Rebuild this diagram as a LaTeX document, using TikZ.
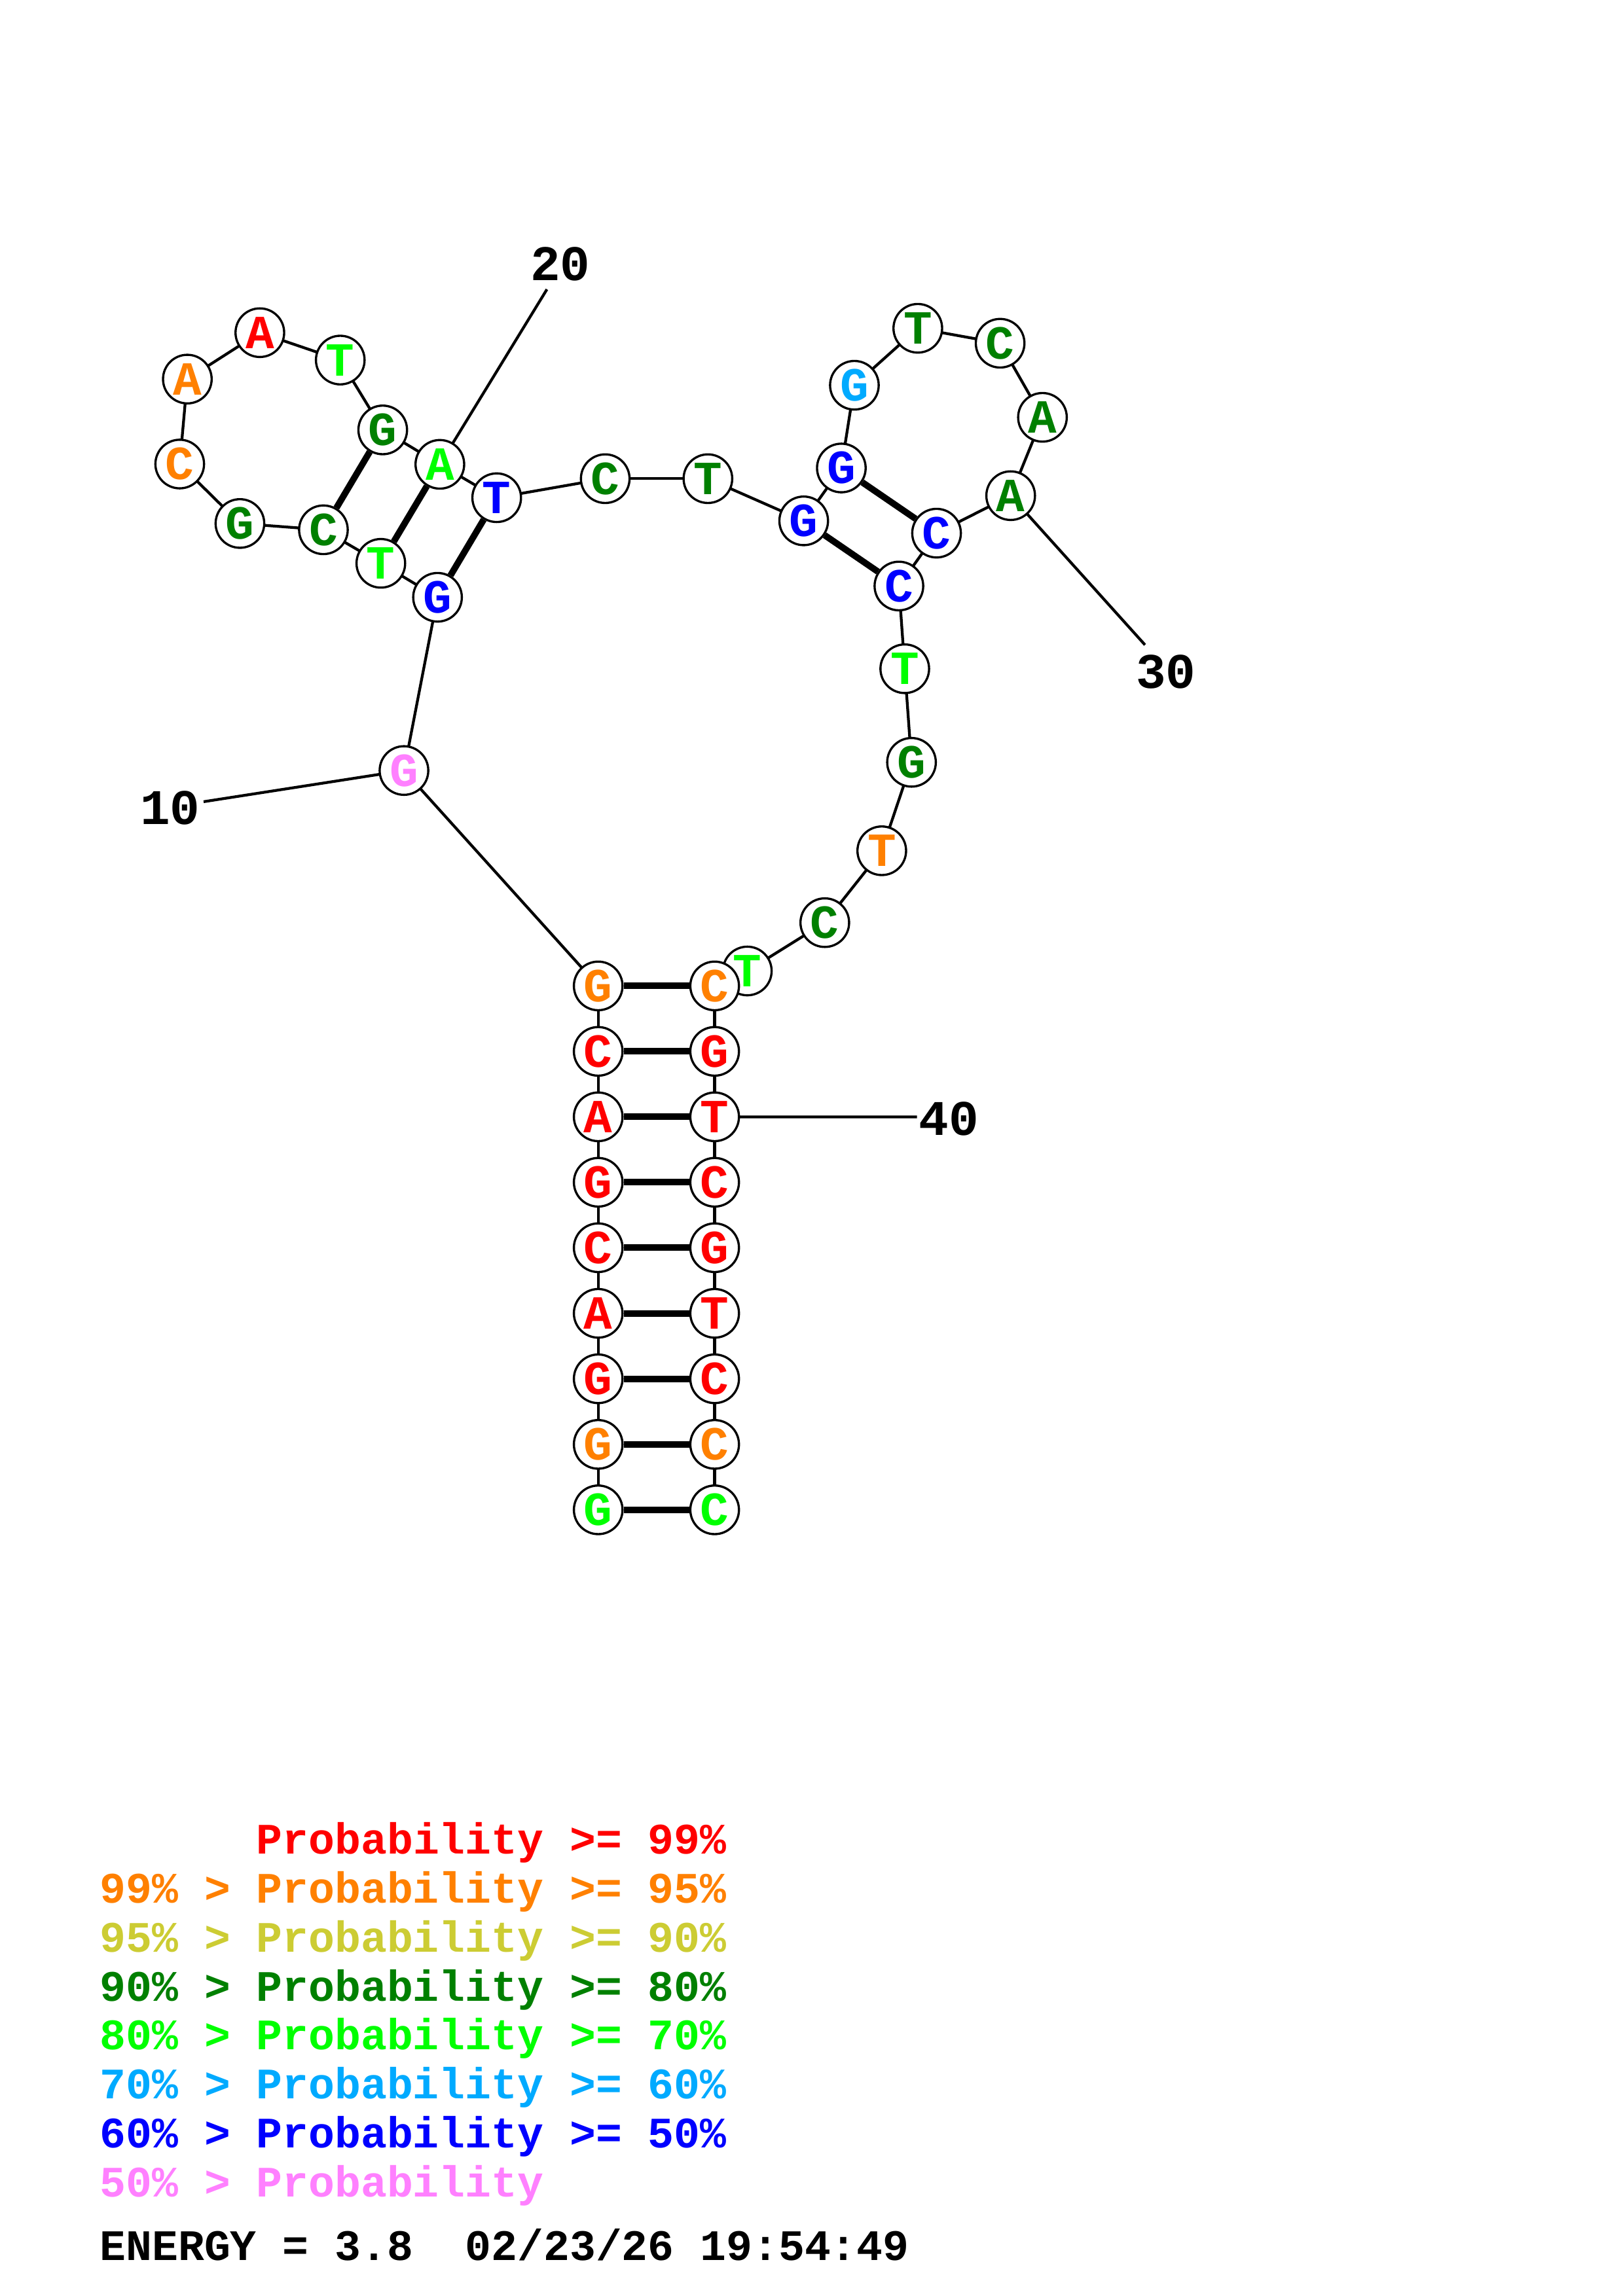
\documentclass[tikz,border=0pt]{standalone}
\usepackage{fontspec}
\newfontfamily\mono{Liberation Mono}[WordSpace={1,0,0}]
\pgfdeclarelayer{paper}
\pgfdeclarelayer{background}
\pgfdeclarelayer{foreground}
\pgfsetlayers{paper,background,main,foreground}
\definecolor{cred}{RGB}{255,0,0}
\definecolor{corange}{RGB}{255,128,0}
\definecolor{cyellow}{RGB}{204,204,51}
\definecolor{cdgreen}{RGB}{0,128,0}
\definecolor{cgreen}{RGB}{0,255,0}
\definecolor{cltblue}{RGB}{0,170,255}
\definecolor{cblue}{RGB}{0,0,255}
\definecolor{cpink}{RGB}{255,128,255}
\tikzset{
  nt/.style={circle, draw=black, fill=white, line width=1.5pt, minimum size=33.2pt, inner sep=0pt},
  ntl/.style={inner sep=0pt, font=\mono\bfseries\fontsize{32.5}{32.5}\selectfont},
  bb/.style={line width=1.9pt, black},
  pairline/.style={line width=4.4pt, black},
  numlab/.style={inner sep=0pt, font=\mono\bfseries\fontsize{34}{34}\selectfont},
  leg/.style={anchor=base west, inner sep=0pt, font=\mono\bfseries\fontsize{29.7}{29.7}\selectfont},
}
\begin{document}
\begin{tikzpicture}[x=1pt, y=-1pt]
\begin{pgfonlayer}{paper}
\path[use as bounding box, fill=white] (0,0) rectangle (1108,1568);
\end{pgfonlayer}
% nucleotide circles
\foreach \i/\x/\y in {
 1/408.4/1031.1, 2/408.4/986.4, 3/408.4/941.6, 4/408.4/896.9, 5/408.4/852.1,
 6/408.4/807.4, 7/408.4/762.7, 8/408.4/718.0, 9/408.4/673.3,
 10/275.8/526.2, 11/298.7/407.9, 12/260.0/384.7, 13/220.8/361.8, 14/163.8/357.5,
 15/122.7/316.9, 16/127.9/258.9, 17/177.4/227.2, 18/232.3/245.9, 19/261.3/293.6,
 20/300.3/317.1, 21/339.1/339.9, 22/413.2/326.9, 23/483.3/326.9, 24/548.7/355.7,
 25/574.4/319.6, 26/583.3/263.1, 27/626.6/224.2, 28/682.8/234.4, 29/711.7/285.0,
 30/690.0/338.5, 31/639.4/364.1, 32/613.7/400.2, 33/617.7/456.7, 34/622.3/520.6,
 35/602.0/581.0, 36/563.1/630.1, 37/510.2/663.1, 38/487.9/673.3,
 39/487.9/718.0, 40/487.9/762.7, 41/487.9/807.4, 42/487.9/852.1, 43/487.9/896.9,
 44/487.9/941.6, 45/487.9/986.4, 46/487.9/1031.1}
 {\node[nt] (n\i) at (\x,\y) {};}
% label end points
\coordinate (e10) at (139,547.5);
\coordinate (e20) at (373.4,197.6);
\coordinate (e30) at (781.7,440.4);
\coordinate (e40) at (626.0,762.8);
\begin{pgfonlayer}{background}
 \foreach \i [count=\j from 2] in {1,...,45} {\draw[bb] (n\i.center) -- (n\j.center);}
 \foreach \a/\b in {1/46,2/45,3/44,4/43,5/42,6/41,7/40,8/39,9/38,11/21,12/20,13/19,24/32,25/31}
   {\draw[pairline] (n\a) -- (n\b);}
 \draw[bb] (n10.center) -- (e10);
 \draw[bb] (n20.center) -- (e20);
 \draw[bb] (n30.center) -- (e30);
 \draw[bb] (n40.center) -- (e40);
\end{pgfonlayer}
\begin{pgfonlayer}{foreground}
\foreach \i/\l/\c in {
 1/G/cgreen, 2/G/corange, 3/G/cred, 4/A/cred, 5/C/cred, 6/G/cred, 7/A/cred, 8/C/cred,
 9/G/corange, 10/G/cpink, 11/G/cblue, 12/T/cgreen, 13/C/cdgreen, 14/G/cdgreen,
 15/C/corange, 16/A/corange, 17/A/cred, 18/T/cgreen, 19/G/cdgreen, 20/A/cgreen,
 21/T/cblue, 22/C/cdgreen, 23/T/cdgreen, 24/G/cblue, 25/G/cblue, 26/G/cltblue,
 27/T/cdgreen, 28/C/cdgreen, 29/A/cdgreen, 30/A/cdgreen, 31/C/cblue, 32/C/cblue,
 33/T/cgreen, 34/G/cdgreen, 35/T/corange, 36/C/cdgreen, 37/T/cgreen, 38/C/corange,
 39/G/cred, 40/T/cred, 41/C/cred, 42/G/cred, 43/T/cred, 44/C/cred, 45/C/corange, 46/C/cgreen}
 {\node[ntl, text=\c] (l\i) at (n\i) {\l};}
\end{pgfonlayer}
% position labels
\node[numlab] (t10) at (116.2,551.8) {10};
\node[numlab] (t20) at (382.6,180.5) {20};
\node[numlab] (t30) at (796.0,458.6) {30};
\node[numlab] (t40) at (647.8,764.2) {40};
% legend
\node[leg, text=cred]    (leg1) at (68,1266.0) {\phantom{99\% > }Probability >= 99\%};
\node[leg, text=corange] (leg2) at (68,1299.4) {99\% > Probability >= 95\%};
\node[leg, text=cyellow] (leg3) at (68,1332.9) {95\% > Probability >= 90\%};
\node[leg, text=cdgreen] (leg4) at (68,1366.4) {90\% > Probability >= 80\%};
\node[leg, text=cgreen]  (leg5) at (68,1399.8) {80\% > Probability >= 70\%};
\node[leg, text=cltblue] (leg6) at (68,1433.2) {70\% > Probability >= 60\%};
\node[leg, text=cblue]   (leg7) at (68,1466.7) {60\% > Probability >= 50\%};
\node[leg, text=cpink]   (leg8) at (68,1500.1) {50\% > Probability};
\node[leg, text=black]   (energy) at (68,1543.5) {ENERGY = 3.8\ \ 02/23/26 19:54:49};
\end{tikzpicture}
\end{document}
